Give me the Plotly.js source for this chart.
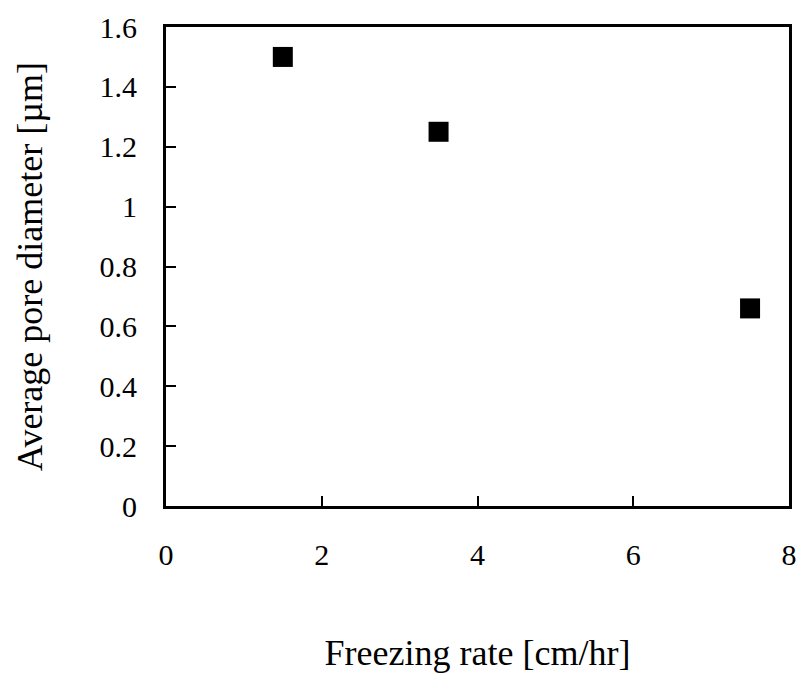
<!DOCTYPE html>
<html>
<head>
<meta charset="utf-8">
<script src="https://cdn.plot.ly/plotly-3.0.1.min.js"></script>
<style>html,body{margin:0;padding:0;background:#fff;}#chart{width:802px;height:673px;}</style>
</head>
<body>
<div id="chart"></div>
<script>
const freezingRate = [1.5, 3.5, 7.5];
const poreDiameter = [1.5, 1.25, 0.66];
const xTicks = [0, 2, 4, 6, 8];
const yTicks = [0, 0.2, 0.4, 0.6, 0.8, 1, 1.2, 1.4, 1.6];
const yTickLabels = ['0', '0.2', '0.4', '0.6', '0.8', '1', '1.2', '1.4', '1.6'];

const font = 'Liberation Serif, Times New Roman, serif';

const trace = {
  x: freezingRate,
  y: poreDiameter,
  mode: 'markers',
  type: 'scatter',
  marker: {symbol: 'square', size: 20, color: '#000'},
  cliponaxis: false,
  hoverinfo: 'x+y'
};

const layout = {
  width: 802, height: 673,
  margin: {l: 166, r: 13, t: 27, b: 167},
  paper_bgcolor: '#fff', plot_bgcolor: '#fff',
  showlegend: false,
  font: {family: font, color: '#000', size: 30},
  xaxis: {
    range: [0, 8], tickvals: xTicks, ticktext: xTicks.map(String),
    ticks: 'inside', ticklen: 10, tickwidth: 2, tickcolor: '#000',
    showline: true, linewidth: 3, linecolor: '#000', mirror: true,
    showgrid: false, zeroline: false,
    ticklabelstandoff: 20,
    tickfont: {family: font, size: 30, color: '#000'},
    title: {text: 'Freezing rate [cm/hr]', font: {family: font, size: 36, color: '#000'}, standoff: 72}
  },
  yaxis: {
    range: [0, 1.6], tickvals: yTicks, ticktext: yTickLabels,
    ticks: 'inside', ticklen: 10, tickwidth: 2, tickcolor: '#000',
    showline: true, linewidth: 3, linecolor: '#000', mirror: true,
    showgrid: false, zeroline: false,
    ticklabelstandoff: 20,
    tickfont: {family: font, size: 30, color: '#000'},
    title: {text: 'Average pore diameter [µm]', font: {family: font, size: 36, color: '#000'}, standoff: 46}
  }
};

Plotly.newPlot('chart', [trace], layout, {displayModeBar: false, staticPlot: true});
</script>
</body>
</html>
